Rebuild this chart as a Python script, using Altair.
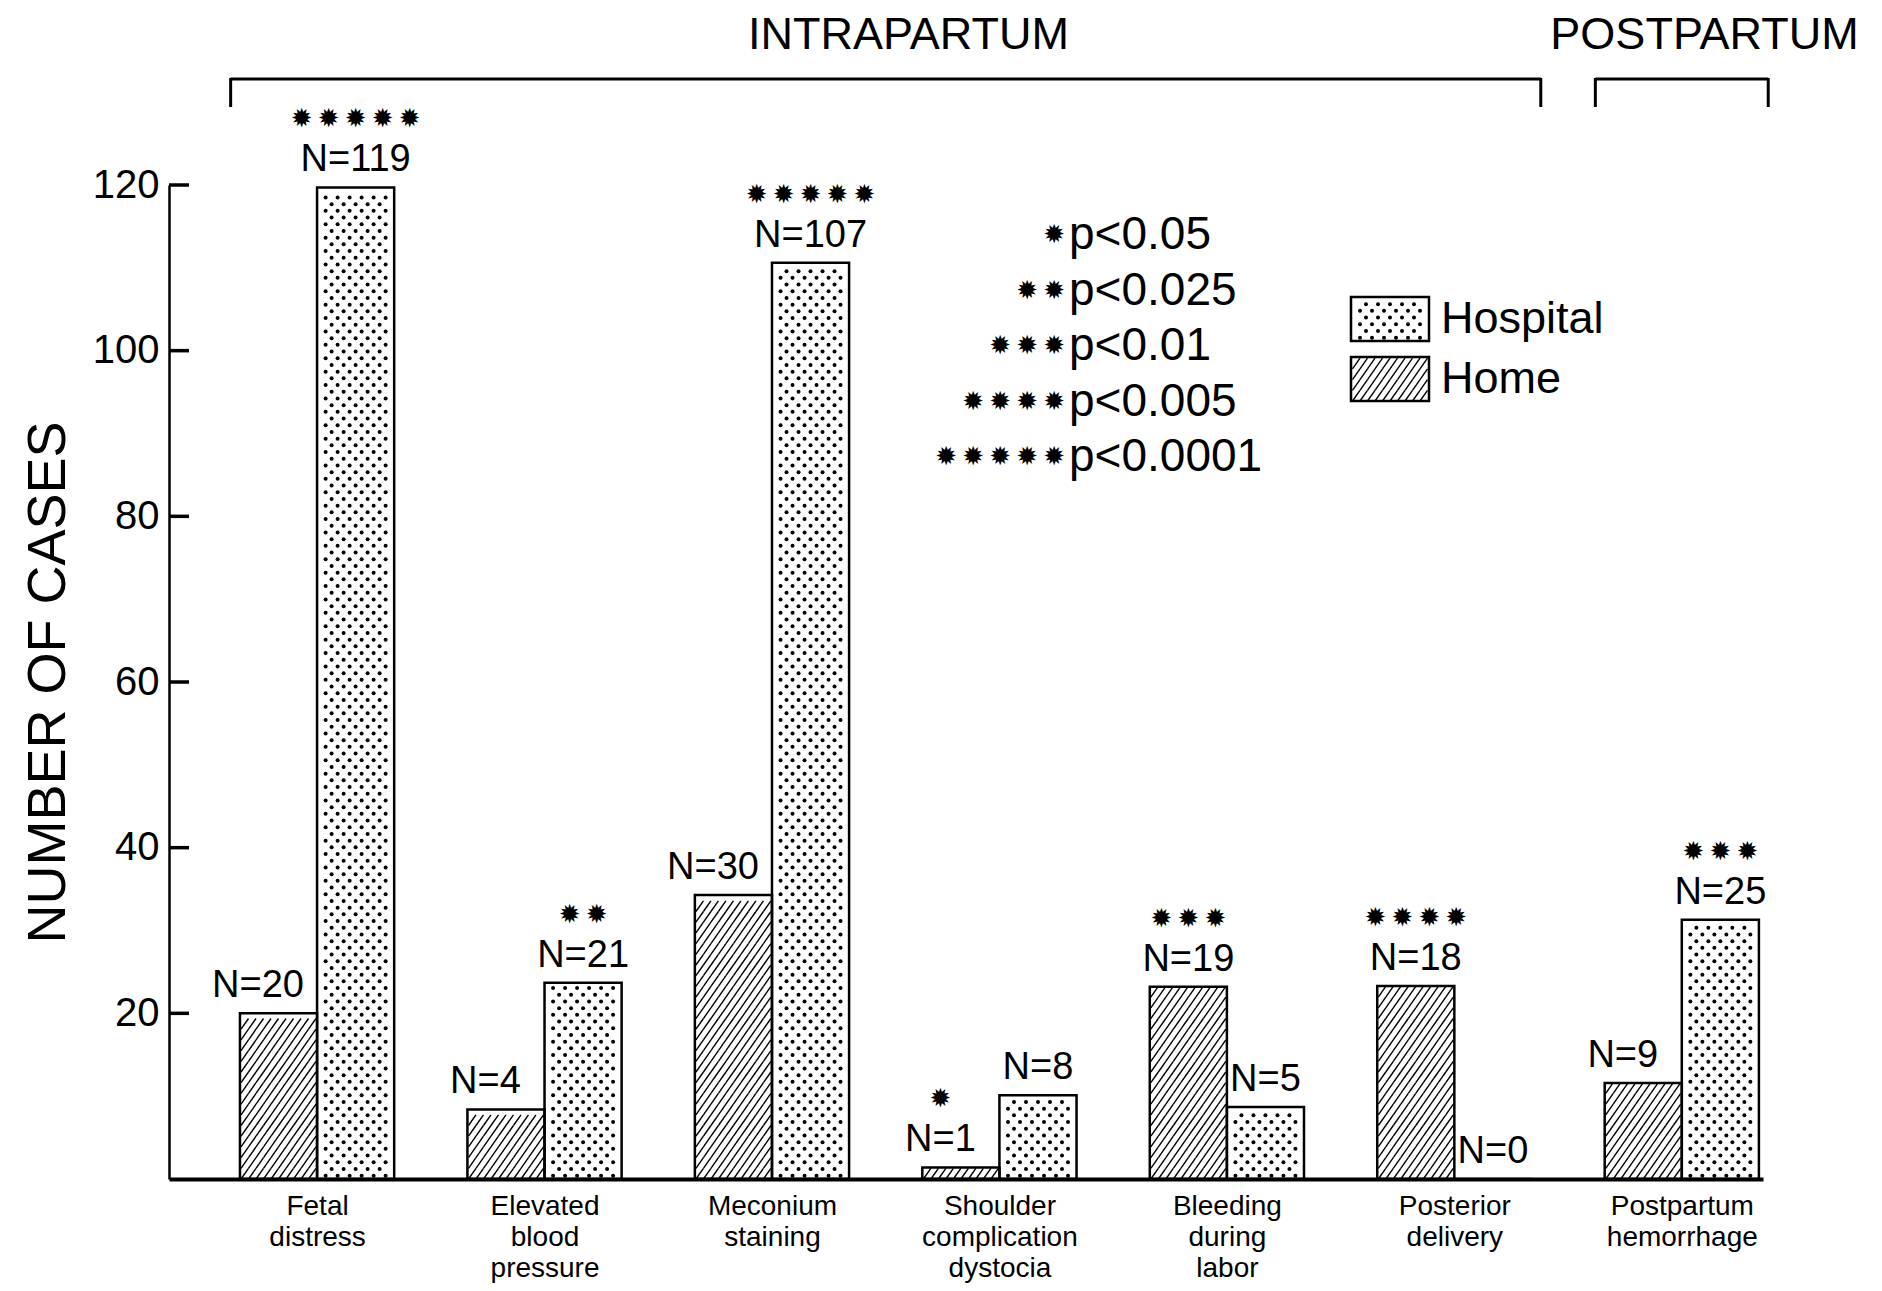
import json
import altair as alt
import pandas as pd

# ---------------- data ----------------
categories = ["Fetal distress", "Elevated blood pressure", "Meconium staining",
              "Shoulder complication dystocia", "Bleeding during labor",
              "Posterior delivery", "Postpartum hemorrhage"]
home_values = [20.0, 8.4, 34.3, 1.4, 23.2, 23.3, 11.6]          # bar heights
hospital_values = [119.7, 23.7, 110.6, 10.1, 8.7, 0.0, 31.3]    # bar heights
home_n = [20, 4, 30, 1, 19, 18, 9]
hospital_n = [119, 21, 107, 8, 5, 0, 25]
home_stars = [0, 0, 0, 1, 3, 4, 0]
hospital_stars = [5, 2, 5, 0, 0, 0, 3]
phases = ["INTRAPARTUM", "POSTPARTUM"]
phase_first = [0, 6]
phase_last = [5, 6]
sig_stars = [1, 2, 3, 4, 5]
sig_levels = ["p<0.05", "p<0.025", "p<0.01", "p<0.005", "p<0.0001"]
legend_series = ["Hospital", "Home"]
y_ticks = [20, 40, 60, 80, 100, 120]

# ---------------- layout / style constants ----------------
FONT = "Liberation Sans"
STAR_FONT = "DejaVu Sans"
STAR = "\u2739"
STAR_SIZE = 26
W, H = 1594, 994
X_MIN, X_MAX = -0.651, 6.357
Y_MAX = 120
PXX = W / (X_MAX - X_MIN)
PXY = H / Y_MAX
HALF = 0.339


def xd(px):
    return X_MIN + px / PXX


def yd(py):
    return Y_MAX - py / PXY


# hatch tiles (px)
HW, HH = 7.5, 10.7
hxs, hys = HW / PXX, HH / PXY
HATCH_PATH = "M-0.7,1L0.7,-1"
# dot lattice (px)
DXP, DYP = 12.0, 6.7
dxs, dys = DXP / PXX, DYP / PXY

xscale = alt.Scale(domain=[X_MIN, X_MAX], nice=False, zero=False)
yscale = alt.Scale(domain=[0, Y_MAX], nice=False, zero=True)

label_expr = "split(" + json.dumps(categories) + "[round(datum.value)], ' ')"
xaxis = alt.Axis(values=list(range(len(categories))), labelExpr=label_expr, ticks=False,
                 grid=False, domainWidth=4, domainColor="black", labelColor="black",
                 labelFont=FONT, labelFontSize=28, labelLineHeight=31, labelPadding=13,
                 labelBaseline="top", labelFlush=False, labelOverlap=False, title=None)
yaxis = alt.Axis(values=y_ticks, ticks=False, grid=False, domainWidth=2.5, domainColor="black",
                 labelColor="black", labelFont=FONT, labelFontSize=40, labelPadding=10,
                 title="NUMBER OF CASES", titleFont=FONT, titleFontSize=54,
                 titleFontWeight="normal", titleColor="black", titlePadding=17)


def X(f):
    return alt.X(f, type="quantitative", scale=xscale, axis=xaxis)


def Y(f):
    return alt.Y(f, type="quantitative", scale=yscale, axis=yaxis)


def stars_text(k):
    return "\u2009".join([STAR] * k)


rows = []
for i in range(len(categories)):
    rows.append(dict(idx=i, series="Home", value=home_values[i], n=home_n[i],
                     stars=stars_text(home_stars[i]), other=hospital_values[i]))
    rows.append(dict(idx=i, series="Hospital", value=hospital_values[i], n=hospital_n[i],
                     stars=stars_text(hospital_stars[i]), other=home_values[i]))
bars_df = pd.DataFrame(rows)

bars = alt.Chart(bars_df).transform_calculate(
    x0=f"datum.series == 'Home' ? datum.idx - {HALF} : datum.idx",
    x1=f"datum.series == 'Home' ? datum.idx : datum.idx + {HALF}",
    y0="0",
    y1="datum.value",
)


def hatch_layer(ch):
    return (ch
            .transform_calculate(nr=f"max(1, floor((datum.y1 - datum.y0) / {hys} + 0.3))")
            .transform_calculate(rows="sequence(0, datum.nr)")
            .transform_flatten(["rows"])
            .transform_calculate(nc=f"max(1, floor((datum.x1 - datum.x0) / {hxs}))")
            .transform_calculate(cols="sequence(0, datum.nc)")
            .transform_flatten(["cols"])
            .transform_calculate(px=f"(datum.x0 + datum.x1) / 2 + (datum.cols - (datum.nc - 1) / 2) * {hxs}")
            .transform_calculate(py=f"datum.y0 + (datum.rows + 0.5) * {hys}")
            .mark_point(shape=HATCH_PATH, size=HH * HH, filled=False, stroke="black",
                        strokeWidth=1.4, opacity=1)
            .encode(x=X("px"), y=Y("py")))


def dots_layer(ch):
    return (ch
            .transform_calculate(nr=f"floor((datum.y1 - datum.y0) / {dys})")
            .transform_calculate(rows="sequence(0, datum.nr)")
            .transform_flatten(["rows"])
            .transform_calculate(nc=f"floor((datum.x1 - datum.x0) / {dxs})")
            .transform_calculate(nc2="datum.rows % 2 == 0 ? datum.nc : datum.nc - 1")
            .transform_calculate(cols="sequence(0, datum.nc2)")
            .transform_flatten(["cols"])
            .transform_calculate(px=f"(datum.x0 + datum.x1) / 2 + (datum.cols - (datum.nc2 - 1) / 2) * {dxs}")
            .transform_calculate(py=f"datum.y0 + (datum.rows + 0.5) * {dys}")
            .mark_point(shape="circle", size=16, filled=True, fill="black", strokeWidth=0, opacity=1)
            .encode(x=X("px"), y=Y("py")))


home_tex = hatch_layer(bars.transform_filter("datum.series == 'Home'"))
hosp_tex = dots_layer(bars.transform_filter("datum.series == 'Hospital'"))
outlines = bars.mark_rect(fillOpacity=0, stroke="black", strokeWidth=2.5).encode(
    x=X("x0"), x2="x1", y=Y("y1"), y2="y0")

labelled = bars.transform_calculate(
    lx=f"datum.series == 'Home' ? (datum.value < datum.other ? datum.idx - {HALF / 2 + 0.09} : datum.idx - {HALF / 2}) : datum.idx + {HALF / 2}",
    label="'N=' + datum.n",
)
n_labels = labelled.mark_text(font=FONT, fontSize=38, baseline="alphabetic", dy=-16,
                              color="black").encode(x=X("lx"), y=Y("value"), text="label:N")
star_labels = labelled.transform_filter("datum.stars != ''").mark_text(
    font=STAR_FONT, fontSize=STAR_SIZE, baseline="middle", dy=-68, color="black").encode(
    x=X("lx"), y=Y("value"), text="stars:N")

ticks = alt.Chart(pd.DataFrame({"t": y_ticks})).mark_rule(strokeWidth=3.5, color="black").encode(
    y=Y("t"), x=alt.value(0), x2=alt.value(20))

# phase brackets and headers
ph = alt.Chart(pd.DataFrame({"phase": phases, "first": phase_first, "last": phase_last})).transform_calculate(
    bx0="datum.first - 0.38", bx1="datum.last + 0.38", mid="(datum.first + datum.last) / 2 + 0.1")
br_top = ph.mark_rule(strokeWidth=3, color="black").encode(x=X("bx0"), x2="bx1", y=alt.value(-106))
br_l = ph.mark_rule(strokeWidth=3, color="black").encode(x=X("bx0"), y=alt.value(-107), y2=alt.value(-78))
br_r = ph.mark_rule(strokeWidth=3, color="black").encode(x=X("bx1"), y=alt.value(-107), y2=alt.value(-78))
headers = ph.mark_text(font=FONT, fontSize=45, baseline="middle", color="black").encode(
    x=X("mid"), y=alt.value(-150), text="phase:N")

# significance key
sig = alt.Chart(pd.DataFrame({"k": sig_stars, "level": sig_levels,
                              "s": [stars_text(k) for k in sig_stars]})).transform_calculate(
    sy=f"{yd(50)} - 55.5 * (datum.k - 1) / {PXY}", sx=f"{xd(896)}", px_=f"{xd(900)}")
sig_s = sig.mark_text(font=STAR_FONT, fontSize=STAR_SIZE, align="right", baseline="middle",
                      color="black").encode(x=X("sx"), y=Y("sy"), text="s:N")
sig_p = sig.mark_text(font=FONT, fontSize=46, align="left", baseline="middle",
                      color="black").encode(x=X("px_"), y=Y("sy"), text="level:N")

# legend
leg = alt.Chart(pd.DataFrame({"series": legend_series, "k": list(range(len(legend_series)))})).transform_calculate(
    x0=f"{xd(1182)}", x1=f"{xd(1260)}",
    y1=f"{yd(112)} - 60 * datum.k / {PXY}", y0=f"{yd(156)} - 60 * datum.k / {PXY}",
    tx=f"{xd(1272)}", ty=f"{yd(134)} - 60 * datum.k / {PXY}")
leg_hatch = hatch_layer(leg.transform_filter("datum.series == 'Home'"))
leg_dots = dots_layer(leg.transform_filter("datum.series == 'Hospital'"))
leg_box = leg.mark_rect(fillOpacity=0, stroke="black", strokeWidth=2.5).encode(
    x=X("x0"), x2="x1", y=Y("y1"), y2="y0")
leg_txt = leg.mark_text(font=FONT, fontSize=45, align="left", baseline="middle",
                        color="black").encode(x=X("tx"), y=Y("ty"), text="series:N")

chart = alt.layer(
    home_tex, hosp_tex, outlines, n_labels, star_labels, ticks,
    br_top, br_l, br_r, headers, sig_s, sig_p,
    leg_hatch, leg_dots, leg_box, leg_txt,
).properties(
    width=W, height=H,
    padding={"left": 13, "top": 5, "right": 5, "bottom": 5},
    background="white",
).configure_view(strokeWidth=0)

chart.save("out.html", embed_options={"renderer": "svg", "actions": False})
